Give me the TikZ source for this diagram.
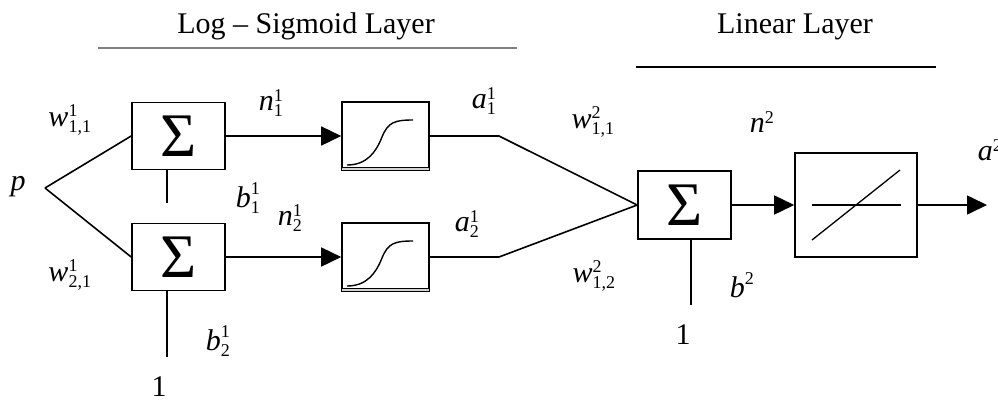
\documentclass[tikz,border=0pt]{standalone}
\usepackage{fontspec}
\setmainfont{Liberation Serif}
\usetikzlibrary{calc}
\usetikzlibrary{positioning}
\usetikzlibrary{arrows.meta}

\newcommand{\sx}[1]{\mbox{\fontsize{18}{18}\selectfont #1}}
\newcommand{\wl}[3]{$\mbox{\textit{#1}}^{\sx{#2}}_{\sx{#3}}$}

\begin{document}
\begin{tikzpicture}[%
  x=1pt, y=-1pt,
  >={Triangle[length=20pt,width=19pt]},
  line width=1.6pt,
  box/.style={draw, inner sep=0pt},
  sumbox/.style={box, minimum width=93pt, minimum height=67pt,
    font=\fontsize{62}{62}\selectfont},
  sigbox/.style={box, minimum width=87pt, minimum height=68pt},
  lbl/.style={font=\fontsize{30}{36}\selectfont, inner sep=0pt},
  title/.style={font=\fontsize{30}{36}\selectfont, inner sep=0pt, anchor=base},
]

  \useasboundingbox (0,0) rectangle (998,400);

  \node[title] (t1) at (306,33) {Log – Sigmoid Layer};
  \node[title] (t2) at (795,33) {Linear Layer};
  \draw[gray, line width=1.2pt] (98,48) -- (517,48);
  \draw[line width=2.2pt] (636,67) -- (936,67);

  \node[sumbox] (s1) at (178.5,136) {Σ};
  \node[sumbox] (s2) at (178.5,257) {Σ};
  \node[sigbox] (g1) at (385.5,136) {};
  \node[sigbox] (g2) at (385.5,257) {};
  \node[sumbox, minimum height=68pt] (s3) at (684.5,205) {Σ};
  \node[box, minimum width=122pt, minimum height=104pt] (lin) at (856,205) {};

  \coordinate (p) at (45,188);
  \coordinate (k1) at (499,136);
  \coordinate (k2) at (499,257);
  \coordinate (c1) at (167,203);
  \coordinate (c2) at (167,357);
  \coordinate (c3) at (691,305);
  \coordinate (out) at (987,205);

  % inputs
  \draw (p) -- (s1.west);
  \draw (p) -- (s2.west);
  \draw (s1.south -| c1) -- (c1);
  \draw (s2.south -| c2) -- (c2);

  \draw[->] (s1.east) -- (g1.west);
  \draw[->] (s2.east) -- (g2.west);

  % log-sigmoid transfer
  \foreach \g in {g1,g2} {
    \draw[fill=gray!35, line width=1pt] ($(\g.south west)+(0,-3)$) rectangle (\g.south east);
    \draw[line width=1.4pt] ($(\g.center)+(-38.5,29)$)
      .. controls +(20,0) and +(-6,15) .. ($(\g.center)+(-3.5,1)$)
      .. controls +(6,-15) and +(-18,0) .. ($(\g.center)+(27.5,-16)$);
  }

  \draw (g1.east) -- (k1) -- (s3.west);
  \draw (g2.east) -- (k2) -- (s3.west);
  \draw (s3.south -| c3) -- (c3);
  \draw[->] (s3.east) -- (lin.west);
  \draw[->] (lin.east) -- (out);

  % linear transfer
  \draw[line width=1.3pt] ($(lin.center)+(-44,0)$) -- ($(lin.center)+(45,0)$);
  \draw[line width=1.3pt] ($(lin.center)+(-44,35)$) -- ($(lin.center)+(44,-35)$);

  \node[lbl] (pl) at (18,187) {\textit{p}};
  \node[lbl] (w11) at (70,120) {\wl{w}{1}{1,1}};
  \node[lbl] (w21) at (70,275) {\wl{w}{1}{2,1}};
  \node[lbl] (b11) at (248,198) {\wl{b}{1}{1}};
  \node[lbl] (b21) at (218,341) {\wl{b}{1}{2}};
  \node[lbl] (n11) at (271,103) {\wl{n}{1}{1}};
  \node[lbl] (n21) at (290,218) {\wl{n}{1}{2}};
  \node[lbl] (a11) at (484,101) {\wl{a}{1}{1}};
  \node[lbl] (a21) at (467,224) {\wl{a}{1}{2}};
  \node[lbl] (w112) at (593,122) {\wl{w}{2}{1,1}};
  \node[lbl] (w122) at (594,276) {\wl{w}{2}{1,2}};
  \node[lbl] (n2) at (762,122) {$\mbox{\textit{n}}^{\sx{2}}$};
  \node[lbl] (b2) at (742,285) {$\mbox{\textit{b}}^{\sx{2}}$};
  \node[lbl, anchor=west] (a2) at (977,150) {$\mbox{\textit{a}}^{\sx{2}}$};
  \node[lbl] (one1) at (159,387) {1};
  \node[lbl] (one2) at (683,335) {1};

\end{tikzpicture}
\end{document}
